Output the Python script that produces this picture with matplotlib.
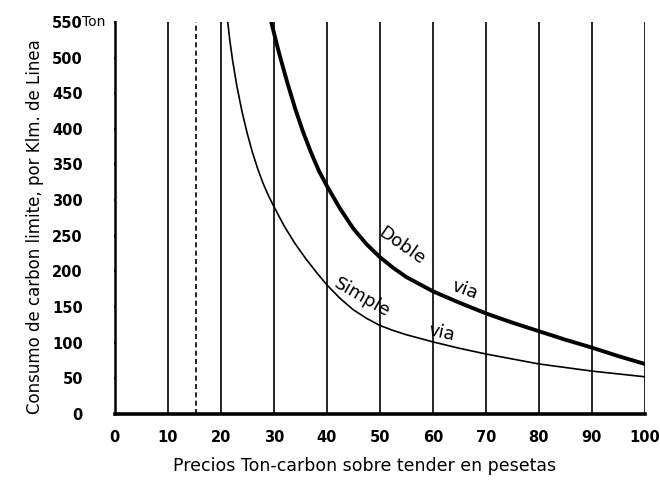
import numpy as np
import matplotlib
matplotlib.use("Agg")
import matplotlib.pyplot as plt

# price per ton of coal on tender (pesetas) vs limit consumption (Ton per Klm)
x_simple = [21.3, 21.7, 22.2, 23, 24, 25, 26, 27, 28, 29, 30, 32, 34, 36, 38, 40,
            42.5, 45, 47.5, 50, 52.5, 55, 57.5, 60, 65, 70, 75, 80, 85, 90, 95, 100]
y_simple = [550, 524, 497, 461, 424, 393, 366, 343, 323, 306, 291, 263, 239, 218, 199, 181,
            162, 146, 134, 124, 117, 111, 106, 101, 92, 84, 77, 70, 65, 60, 56, 52]

x_doble = [29.5, 31, 32.5, 34, 35.5, 37, 38.5, 40, 42.5, 45, 47.5, 50, 52.5, 55, 57.5,
           60, 65, 70, 75, 80, 85, 90, 95, 100]
y_doble = [550, 506, 466, 429, 396, 367, 341, 320, 288, 260, 238, 220, 205, 192, 182,
           172, 156, 141, 128, 116, 104, 93, 81, 70]

grid_x = [10, 20, 30, 40, 50, 60, 70, 80, 90, 100]
dashed_x = 15.4
x_ticks = [0, 10, 20, 30, 40, 50, 60, 70, 80, 90, 100]
y_ticks = list(range(0, 551, 50))

fig = plt.figure(figsize=(6.6, 4.88), dpi=100)
ax = fig.add_axes([0.174, 0.152, 0.803, 0.803])
ax.set_xlim(0, 100)
ax.set_ylim(0, 550)

for gx in grid_x:
    ax.plot([gx, gx], [0, 550], color="black", lw=1.2, solid_capstyle="butt")
ax.plot([dashed_x, dashed_x], [0, 550], color="black", lw=1.2, ls=(0, (3, 2)))

ax.plot(x_simple, y_simple, color="black", lw=1.2, solid_joinstyle="round")
ax.plot(x_doble, y_doble, color="black", lw=2.8, solid_capstyle="round",
        solid_joinstyle="round")

# curve labels
ax.text(54.2, 236, "Doble", fontsize=13, rotation=-35, ha="center", va="center")
ax.text(66, 174, "via", fontsize=13, rotation=-20, ha="center", va="center")
ax.text(46.6, 163, "Simple", fontsize=13, rotation=-30, ha="center", va="center")
ax.text(61.7, 113, "via", fontsize=13, rotation=-12, ha="center", va="center")

for side in ["top", "right"]:
    ax.spines[side].set_visible(False)
ax.spines["left"].set_linewidth(1.8)
ax.spines["bottom"].set_linewidth(2.6)

ax.set_xticks(x_ticks)
ax.set_yticks(y_ticks)
ax.tick_params(axis="x", length=0, pad=12, labelsize=10.5)
ax.tick_params(axis="y", length=2, width=1.5, direction="inout", pad=22, labelsize=10.5)
for lbl in ax.get_xticklabels() + ax.get_yticklabels():
    lbl.set_fontweight("bold")

ax.text(-0.062, 550, "Ton", transform=ax.get_yaxis_transform(), fontsize=10,
        ha="left", va="center")

fig.text(0.553, 0.045, "Precios Ton-carbon sobre tender en pesetas", fontsize=12.5,
         ha="center", va="center")
fig.text(0.053, 0.535, "Consumo de carbon limite, por Klm. de Linea", fontsize=12,
         rotation=90, ha="center", va="center")

fig.savefig("out.png", dpi=100, facecolor="white")
